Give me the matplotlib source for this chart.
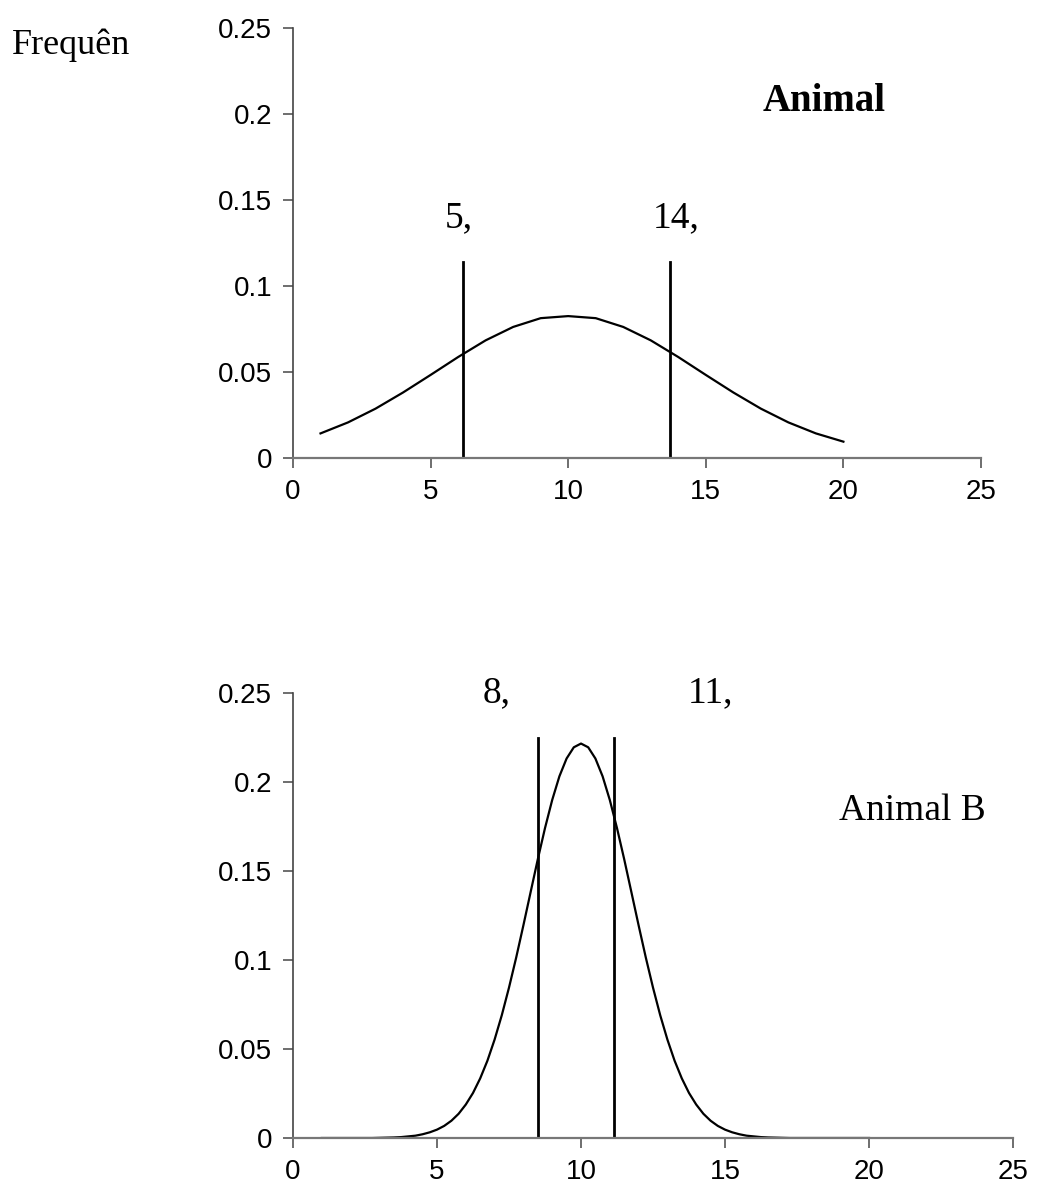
import numpy as np
import matplotlib
matplotlib.use("Agg")
import matplotlib.pyplot as plt

# ---- data ----
xa = [1, 2, 3, 4, 5, 6, 7, 8, 9, 10, 11, 12, 13, 14, 15, 16, 17, 18, 19, 20]
ya = [0.0143, 0.0207, 0.0287, 0.0381, 0.0483, 0.0587, 0.0684, 0.0762, 0.0813, 0.0825,
      0.0813, 0.0762, 0.0684, 0.0587, 0.0483, 0.0381, 0.0287, 0.0207, 0.0143, 0.0095]
lines_a = [6.18, 13.70]
labels_a = ["5,", "14,"]

xb = list(np.arange(1.0, 20.001, 0.25))
yb = [0, 0, 0, 0, 0, 0, 0, 0,
      0.0001, 0.0002, 0.0003, 0.0005, 0.0009, 0.0013, 0.0021, 0.0032,
      0.0047, 0.0068, 0.0097, 0.0136, 0.0188, 0.0253, 0.0335, 0.0434,
      0.0553, 0.0690, 0.0845, 0.1014, 0.1195, 0.1381, 0.1566, 0.1741,
      0.1899, 0.2032, 0.2132, 0.2195,
      0.2216,
      0.2195, 0.2132, 0.2032, 0.1899, 0.1741, 0.1566, 0.1381, 0.1195,
      0.1014, 0.0845, 0.0690, 0.0553, 0.0434, 0.0335, 0.0253, 0.0188,
      0.0136, 0.0097, 0.0068, 0.0047, 0.0032, 0.0021, 0.0013, 0.0009,
      0.0005, 0.0003, 0.0002, 0.0001,
      0, 0, 0, 0, 0, 0, 0, 0, 0, 0, 0, 0]
lines_b = [8.51, 11.15]
labels_b = ["8,", "11,"]

xticks = [0, 5, 10, 15, 20, 25]
yticks = [0, 0.05, 0.1, 0.15, 0.2, 0.25]
yticklabels = ["0", "0.05", "0.1", "0.15", "0.2", "0.25"]

W, H = 1037, 1192
fig = plt.figure(figsize=(W / 100, H / 100), dpi=100)

serif = "Liberation Serif"
sans = "Liberation Sans"


def style(ax, xmax):
    for s in ["top", "right"]:
        ax.spines[s].set_visible(False)
    ax.spines["left"].set_color("#444444")
    ax.spines["bottom"].set_color("#777777")
    ax.spines["left"].set_linewidth(1.2)
    ax.spines["bottom"].set_linewidth(1.6)
    ax.set_xlim(0, xmax)
    ax.set_ylim(0, 0.25)
    ax.set_xticks(xticks)
    ax.set_xticklabels([str(t) for t in xticks], fontfamily=sans, fontsize=20)
    ax.set_yticks(yticks)
    ax.set_yticklabels(yticklabels, fontfamily=sans, fontsize=20)
    ax.tick_params(axis="both", direction="out", length=7, width=1.2,
                   color="#555555", pad=8)


# top axes
ax1 = fig.add_axes([293 / W, 1 - 458 / H, (981 - 293) / W, (458 - 28) / H])
style(ax1, 25)
ax1.plot(xa, ya, color="black", lw=1.6)
for xv in lines_a:
    ax1.plot([xv, xv], [0, 0.114], color="black", lw=2.0)
ax1.text(6.02, 0.1343, labels_a[0], ha="center", va="baseline",
         fontfamily=serif, fontsize=27)
ax1.text(13.92, 0.1343, labels_a[1], ha="center", va="baseline",
         fontfamily=serif, fontsize=27)
ax1.text(19.3, 0.207, "Animal", ha="center", va="center",
         fontfamily=serif, fontsize=28, fontweight="bold")

# bottom axes
ax2 = fig.add_axes([293 / W, 1 - 1138 / H, (1013 - 293) / W, (1138 - 693) / H])
style(ax2, 25)
ax2.plot(xb, yb, color="black", lw=1.6)
for xv in lines_b:
    ax2.plot([xv, xv], [0, 0.225], color="black", lw=2.0)
ax2.text(7.07, 0.245, labels_b[0], ha="center", va="baseline",
         fontfamily=serif, fontsize=27, clip_on=False)
ax2.text(14.5, 0.245, labels_b[1], ha="center", va="baseline",
         fontfamily=serif, fontsize=27, clip_on=False)
ax2.text(21.5, 0.184, "Animal B", ha="center", va="center",
         fontfamily=serif, fontsize=27)

fig.text(12 / W, 1 - 45 / H, "Frequên", ha="left", va="center",
         fontfamily=serif, fontsize=26)

fig.savefig("out.png", dpi=100)
